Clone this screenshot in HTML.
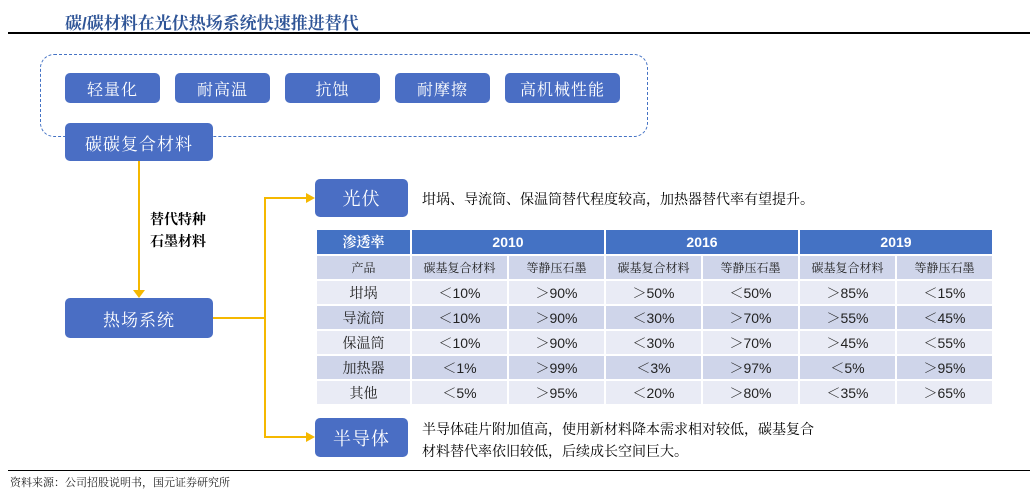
<!DOCTYPE html>
<html><head><meta charset="utf-8"><style>
body{margin:0;width:1036px;height:495px;background:#fff;position:relative;overflow:hidden;font-family:"Liberation Sans","Noto Serif CJK SC","Noto Sans CJK SC",serif;}
.a{position:absolute}
.box{position:absolute;background:#4a6ec4;color:#fff;border-radius:5px;display:flex;align-items:center;justify-content:center;font-size:16px;letter-spacing:1px}
table{position:absolute;left:315px;top:228px;border-collapse:separate;border-spacing:2px 2px;font-size:14px;text-align:center}
td{height:23px;padding:0;color:#222}
.h td{background:#4472c4;color:#fff;font-weight:bold;font-size:14px;height:24px}
.s td{background:#cfd5ea;font-size:12px}
.l td{background:#e9ebf5}
.d td{background:#cfd5ea}
</style></head><body>
<div class="a" style="left:65px;top:9px;font-size:17px;font-weight:bold;color:#2f5597">碳/碳材料在光伏热场系统快速推进替代</div>
<div class="a" style="left:8px;top:32px;width:1022px;height:2px;background:#000"></div>
<div class="a" style="left:40px;top:54px;width:606px;height:81px;border:1.5px dashed #4472c4;border-radius:14px"></div>
<div class="box" style="left:65px;top:73px;width:95px;height:30px">轻量化</div>
<div class="box" style="left:175px;top:73px;width:95px;height:30px">耐高温</div>
<div class="box" style="left:285px;top:73px;width:95px;height:30px">抗蚀</div>
<div class="box" style="left:395px;top:73px;width:95px;height:30px">耐摩擦</div>
<div class="box" style="left:505px;top:73px;width:115px;height:30px">高机械性能</div>
<div class="box" style="left:65px;top:123px;width:148px;height:38px;font-size:17px">碳碳复合材料</div>
<svg class="a" style="left:0;top:0" width="1036" height="495">
<g stroke="#f5b800" stroke-width="2" fill="none">
<line x1="139" y1="161" x2="139" y2="292"/>
<polyline points="213,318 265,318"/>
<polyline points="308,198 265,198 265,437 308,437"/>
</g>
<g fill="#f5b800"><polygon points="133,290 145,290 139,298"/><polygon points="306,193 315,198 306,203"/><polygon points="306,432 315,437 306,442"/></g>
</svg>
<div class="a" style="left:150px;top:208px;font-size:14px;font-weight:bold;line-height:22px">替代特种<br>石墨材料</div>
<div class="box" style="left:65px;top:298px;width:148px;height:40px;font-size:17px">热场系统</div>
<div class="box" style="left:315px;top:179px;width:93px;height:38px;font-size:18px">光伏</div>
<div class="a" style="left:422px;top:189px;font-size:14px">坩埚、导流筒、保温筒替代程度较高，加热器替代率有望提升。</div>
<table>
<tr class="h"><td style="width:93px">渗透率</td><td colspan="2">2010</td><td colspan="2">2016</td><td colspan="2">2019</td></tr>
<tr class="s"><td>产品</td><td style="width:95px">碳基复合材料</td><td style="width:95px">等静压石墨</td><td style="width:95px">碳基复合材料</td><td style="width:95px">等静压石墨</td><td style="width:95px">碳基复合材料</td><td style="width:95px">等静压石墨</td></tr>
<tr class="l"><td>坩埚</td><td>＜10%</td><td>＞90%</td><td>＞50%</td><td>＜50%</td><td>＞85%</td><td>＜15%</td></tr>
<tr class="d"><td>导流筒</td><td>＜10%</td><td>＞90%</td><td>＜30%</td><td>＞70%</td><td>＞55%</td><td>＜45%</td></tr>
<tr class="l"><td>保温筒</td><td>＜10%</td><td>＞90%</td><td>＜30%</td><td>＞70%</td><td>＞45%</td><td>＜55%</td></tr>
<tr class="d"><td>加热器</td><td>＜1%</td><td>＞99%</td><td>＜3%</td><td>＞97%</td><td>＜5%</td><td>＞95%</td></tr>
<tr class="l"><td>其他</td><td>＜5%</td><td>＞95%</td><td>＜20%</td><td>＞80%</td><td>＜35%</td><td>＞65%</td></tr>
</table>
<div class="box" style="left:315px;top:418px;width:93px;height:39px;font-size:18px">半导体</div>
<div class="a" style="left:422px;top:418px;font-size:14px;line-height:22px">半导体硅片附加值高，使用新材料降本需求相对较低，碳基复合<br>材料替代率依旧较低，后续成长空间巨大。</div>
<div class="a" style="left:8px;top:470px;width:1022px;height:1px;background:#000"></div>
<div class="a" style="left:10px;top:474px;font-size:11px;color:#222">资料来源：公司招股说明书，国元证券研究所</div>
</body></html>
